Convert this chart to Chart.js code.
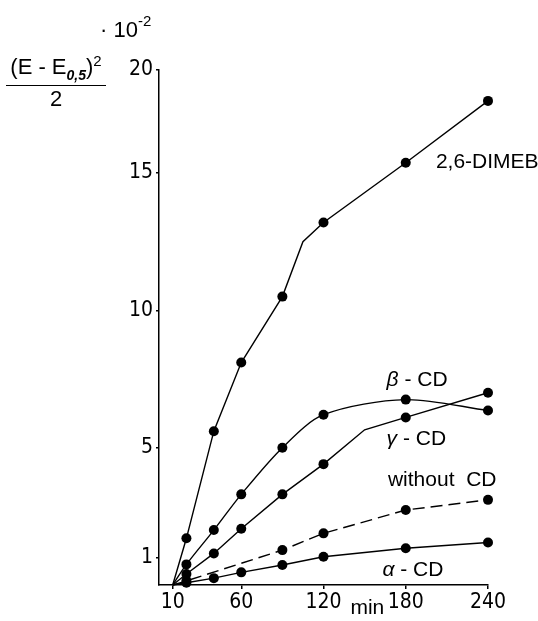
<!DOCTYPE html>
<html lang="en">
<head>
    <meta charset="UTF-8">
    <title>Cyclodextrin kinetics</title>
    <script src="https://cdn.jsdelivr.net/npm/chart.js"></script>
    <style>
        body {
            margin: 0;
            background: #fff;
            font-family: 'Liberation Sans', Arial, sans-serif;
            color: #000;
        }
        .wrap {
            position: relative;
            width: 538px;
            height: 621px;
        }
        .wrap canvas {
            position: absolute;
            left: 0;
            top: 0;
        }
        .factor {
            position: absolute;
            left: 100px;
            top: 12px;
            font-size: 22px;
        }
        .factor sup {
            font-size: 15px;
            vertical-align: 11px;
        }
        .ylabel {
            position: absolute;
            left: 6px;
            top: 52px;
            width: 100px;
            text-align: center;
            font-size: 22px;
        }
        .ylabel .num {
            border-bottom: 1.5px solid #000;
            padding-bottom: 2px;
            white-space: nowrap;
        }
        .ylabel sub {
            font-size: 14px;
            font-style: italic;
            font-weight: bold;
        }
        .ylabel sup {
            font-size: 15px;
        }
    </style>
</head>
<body>
    <div class="wrap">
        <canvas id="chart" width="538" height="621"></canvas>
        <div class="factor">· 10<sup>-2</sup></div>
        <div class="ylabel">
            <div class="num">(E - E<sub>0,5</sub>)<sup>2</sup></div>
            <div class="den">2</div>
        </div>
    </div>

    <script>
        // x ticks (min) and y ticks (x 10^-2)
        const xTicks = [10, 60, 120, 180, 240];
        const yTicks = [1, 5, 10, 15, 20];

        // 2,6-DIMEB
        const dimebTime = [10, 20, 40, 60, 90, 105, 120, 180, 240];
        const dimebValue = [0, 1.7, 5.6, 8.1, 10.5, 12.5, 13.2, 15.5, 18.5];
        const dimebMeasured = [false, true, true, true, true, false, true, true, true];

        // beta-CD
        const betaTime = [10, 20, 40, 60, 90, 120, 180, 240];
        const betaValue = [0, 0.75, 2.0, 3.3, 5.0, 6.2, 6.75, 6.35];
        const betaMeasured = [false, true, true, true, true, true, true, true];

        // gamma-CD
        const gammaTime = [10, 20, 40, 60, 90, 120, 150, 180, 240];
        const gammaValue = [0, 0.4, 1.15, 2.05, 3.3, 4.4, 5.65, 6.1, 7.0];
        const gammaMeasured = [false, true, true, true, true, true, false, true, true];

        // without CD
        const noCdTime = [10, 20, 90, 120, 180, 240];
        const noCdValue = [0, 0.15, 1.27, 1.88, 2.73, 3.1];
        const noCdMeasured = [false, true, true, true, true, true];

        // alpha-CD
        const alphaTime = [10, 20, 40, 60, 90, 120, 180, 240];
        const alphaValue = [0, 0.08, 0.25, 0.46, 0.73, 1.03, 1.34, 1.55];
        const alphaMeasured = [false, true, true, true, true, true, true, true];

        // the printed value axis is stretched differently above 15
        const yBreak = 15;
        const yBreakFrac = 0.8;

        class BrokenLinearScale extends Chart.LinearScale {
            getPixelForValue(value) {
                if (value === null || value === undefined || isNaN(value)) return NaN;
                const max = this.max;
                const d = value <= yBreak
                    ? yBreakFrac * value / yBreak
                    : yBreakFrac + (1 - yBreakFrac) * (value - yBreak) / (max - yBreak);
                return this.getPixelForDecimal(d);
            }
            getValueForPixel(pixel) {
                const d = this.getDecimalForPixel(pixel);
                return d <= yBreakFrac
                    ? d / yBreakFrac * yBreak
                    : yBreak + (d - yBreakFrac) / (1 - yBreakFrac) * (this.max - yBreak);
            }
        }
        BrokenLinearScale.id = 'brokenLinear';
        BrokenLinearScale.defaults = Chart.LinearScale.defaults;
        Chart.register(BrokenLinearScale);

        const tickFont = { family: "'Liberation Sans Narrow', 'DejaVu Sans Condensed', sans-serif", size: 21 };
        const labelFont = "21px 'Liberation Sans', Arial, sans-serif";

        function series(times, values, measured, extra) {
            return Object.assign({
                data: times.map((t, i) => ({ x: t, y: values[i] })),
                borderColor: '#000',
                backgroundColor: '#000',
                borderWidth: 1.4,
                pointRadius: ctx => measured[ctx.dataIndex] ? 5 : 0,
                pointBorderWidth: 0,
                pointBackgroundColor: '#000',
                tension: 0,
                clip: false
            }, extra);
        }

        // greek letter in italic, the rest upright
        function greekLabel(ctx, letter, rest, px, py) {
            ctx.font = 'italic ' + labelFont;
            ctx.fillText(letter, px, py);
            const w = ctx.measureText(letter).width;
            ctx.font = labelFont;
            ctx.fillText(rest, px + w, py);
        }

        // curve names written next to the lines
        const curveLabels = {
            id: 'curveLabels',
            afterDatasetsDraw(chart) {
                const { ctx, scales: { x, y }, chartArea } = chart;
                ctx.save();
                ctx.fillStyle = '#000';
                ctx.font = labelFont;
                ctx.textBaseline = 'middle';
                ctx.textAlign = 'left';
                ctx.fillText('2,6-DIMEB', x.getPixelForValue(202), y.getPixelForValue(15.5));
                greekLabel(ctx, 'β', ' - CD', x.getPixelForValue(166), y.getPixelForValue(7.45));
                greekLabel(ctx, 'γ', ' - CD', x.getPixelForValue(166), y.getPixelForValue(5.3));
                ctx.fillText('without  CD', x.getPixelForValue(167), y.getPixelForValue(3.8));
                greekLabel(ctx, 'α', ' - CD', x.getPixelForValue(163), y.getPixelForValue(0.55));
                ctx.textAlign = 'center';
                ctx.fillText('min', x.getPixelForValue(152), chartArea.bottom + 23);
                ctx.restore();
            }
        };

        new Chart(document.getElementById('chart'), {
            type: 'line',
            data: {
                datasets: [
                    series(dimebTime, dimebValue, dimebMeasured, { label: '2,6-DIMEB' }),
                    series(betaTime, betaValue, betaMeasured, { label: 'β-CD', tension: 0.3 }),
                    series(gammaTime, gammaValue, gammaMeasured, { label: 'γ-CD' }),
                    series(noCdTime, noCdValue, noCdMeasured, { label: 'without CD', borderDash: [12, 6] }),
                    series(alphaTime, alphaValue, alphaMeasured, { label: 'α-CD' })
                ]
            },
            options: {
                responsive: false,
                animation: false,
                layout: { padding: { top: 70, right: 50, left: 0, bottom: 0 } },
                plugins: {
                    legend: { display: false },
                    tooltip: { enabled: false }
                },
                scales: {
                    x: {
                        type: 'linear',
                        min: 0,
                        max: 240,
                        afterBuildTicks: s => { s.ticks = xTicks.map(v => ({ value: v })); },
                        afterFit: s => { s.height = 36; },
                        grid: { drawOnChartArea: false, tickLength: 4, color: '#000', lineWidth: 1.5 },
                        border: { color: '#000', width: 1.5 },
                        ticks: { color: '#000', font: tickFont, padding: 1, maxRotation: 0, autoSkip: false }
                    },
                    y: {
                        type: 'brokenLinear',
                        min: 0,
                        max: 20,
                        afterBuildTicks: s => { s.ticks = yTicks.map(v => ({ value: v })); },
                        afterFit: s => { s.width = 159; },
                        grid: { drawOnChartArea: false, tickLength: 3, color: '#000', lineWidth: 1.5 },
                        border: { color: '#000', width: 1.5 },
                        ticks: { color: '#000', font: tickFont, padding: 3, autoSkip: false }
                    }
                }
            },
            plugins: [curveLabels]
        });
    </script>
</body>
</html>
